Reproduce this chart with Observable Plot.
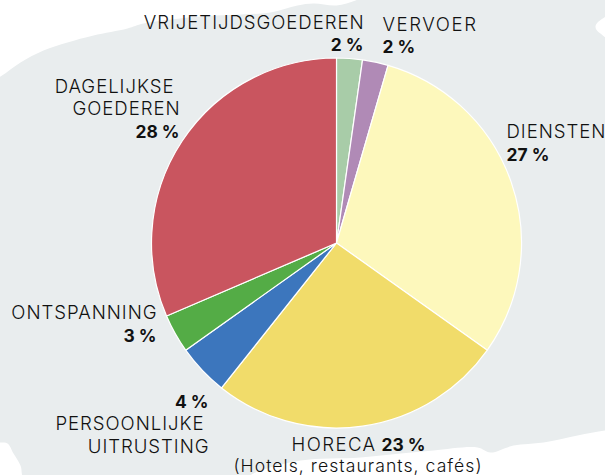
<!DOCTYPE html>
<html>
<head>
<meta charset="utf-8">
<style>html,body{margin:0;padding:0;background:#fff}svg{display:block}</style>
<script src="https://cdn.jsdelivr.net/npm/d3@7"></script>
<script src="https://cdn.jsdelivr.net/npm/@observablehq/plot@0.6"></script>
</head>
<body>
<script>
const categories = ["VRIJETIJDSGOEDEREN","VERVOER","DIENSTEN","HORECA","PERSOONLIJKE UITRUSTING","ONTSPANNING","DAGELIJKSE GOEDEREN"];
const shares = [2,2,27,23,4,3,28];
const sliceColors = ["#a8cca8","#b08ab6","#fdf8bc","#f1dc6a","#3c76bd","#54ac46","#c9555f"];
const slices = categories.map((name,i)=>({name,value:shares[i]}));

const W=605,H=475;
const margin={left:151,right:83,top:58,bottom:47};
const FONT="Inter";
const SIZE=18.6;
const BOLD_SIZE=17.4;
const TRACKING=0.95;

// backdrop outline in page pixels
const backdropX=[-20,0,20,43,67,93,127,143,200,240,270,297,313,336,355,365,620,615,595,615,625,605,577,543,513,490,477,433,400,360,300,260,240,25,20,13,7,0,-20];
const backdropY=[86,76,62,50,42,35,28,23,16,14,12,5,3,5,0,-5,-10,8,26,50,429,430,435,442,445,452,447,450,453,457,460,470,478,480,465,453,443,442,440];

function label(text,x,y,anchor,bold,tracking=TRACKING,size=SIZE){
  return Plot.text([text],{
    text:d=>d,
    frameAnchor:"top-left",
    dx:x-margin.left,dy:y-margin.top,
    textAnchor:anchor,lineAnchor:"bottom",
    fontFamily:FONT,fontSize:bold?BOLD_SIZE:size,
    fontWeight:bold?700:300,
    fill:"#111",
    render(i,s,v,d,c,next){
      const g=next(i,s,v,d,c);
      g.setAttribute("letter-spacing",bold?0:tracking);
      return g;
    }
  });
}

const plot=Plot.plot({
  width:W,height:H,
  marginLeft:margin.left,marginRight:margin.right,marginTop:margin.top,marginBottom:margin.bottom,
  x:{domain:[0,d3.sum(shares)],range:[0,2*Math.PI],axis:null},
  color:{domain:categories,range:sliceColors},
  style:{background:"#fff",overflow:"hidden"},
  marks:[
    Plot.line(backdropX,{
      x:{value:backdropX,scale:null},
      y:{value:backdropY,scale:null},
      curve:"catmull-rom",fill:"#e9edee",stroke:null
    }),
    Plot.barX(slices,Plot.stackX({
      x:"value",fill:"name",stroke:"#fff",strokeWidth:1.2,
      render(index,scales,values,dims){
        const cx=dims.marginLeft+(dims.width-dims.marginLeft-dims.marginRight)/2;
        const cy=dims.marginTop+(dims.height-dims.marginTop-dims.marginBottom)/2;
        const r=Math.min(dims.width-dims.marginLeft-dims.marginRight,dims.height-dims.marginTop-dims.marginBottom)/2;
        const arc=d3.arc().innerRadius(0).outerRadius(r);
        const g=d3.create("svg:g").attr("transform",`translate(${cx},${cy})`);
        for(const i of index){
          g.append("path")
            .attr("d",arc({startAngle:values.x1[i],endAngle:values.x2[i]}))
            .attr("fill",values.fill[i])
            .attr("stroke","#fff").attr("stroke-width",1.2).attr("stroke-linejoin","round");
        }
        return g.node();
      }
    })),
    label("VRIJETIJDSGOEDEREN",364,28,"end"),
    label(shares[0]+" %",363,50,"end",true),
    label("VERVOER",382,30,"start",false,1.6),
    label(shares[1]+" %",382,52,"start",true),
    label("DAGELIJKSE",174,92,"end"),
    label("GOEDEREN",180,114,"end"),
    label(shares[6]+" %",179,137,"end",true),
    label("DIENSTEN",506,137,"start"),
    label(shares[2]+" %",506,160,"start",true),
    label("ONTSPANNING",157,318,"end"),
    label(shares[5]+" %",156,341,"end",true),
    label(shares[4]+" %",208,407,"end",true),
    label("PERSOONLIJKE",204,429,"end"),
    label("UITRUSTING",209,452,"end"),
    label("HORECA",376,450,"end",false,1.4),
    label(shares[3]+" %",381,450,"start",true),
    label("(Hotels, restaurants, cafés)",357.5,471,"middle",false,1.05,17.6)
  ]
});
document.body.appendChild(plot);
</script>
</body>
</html>
